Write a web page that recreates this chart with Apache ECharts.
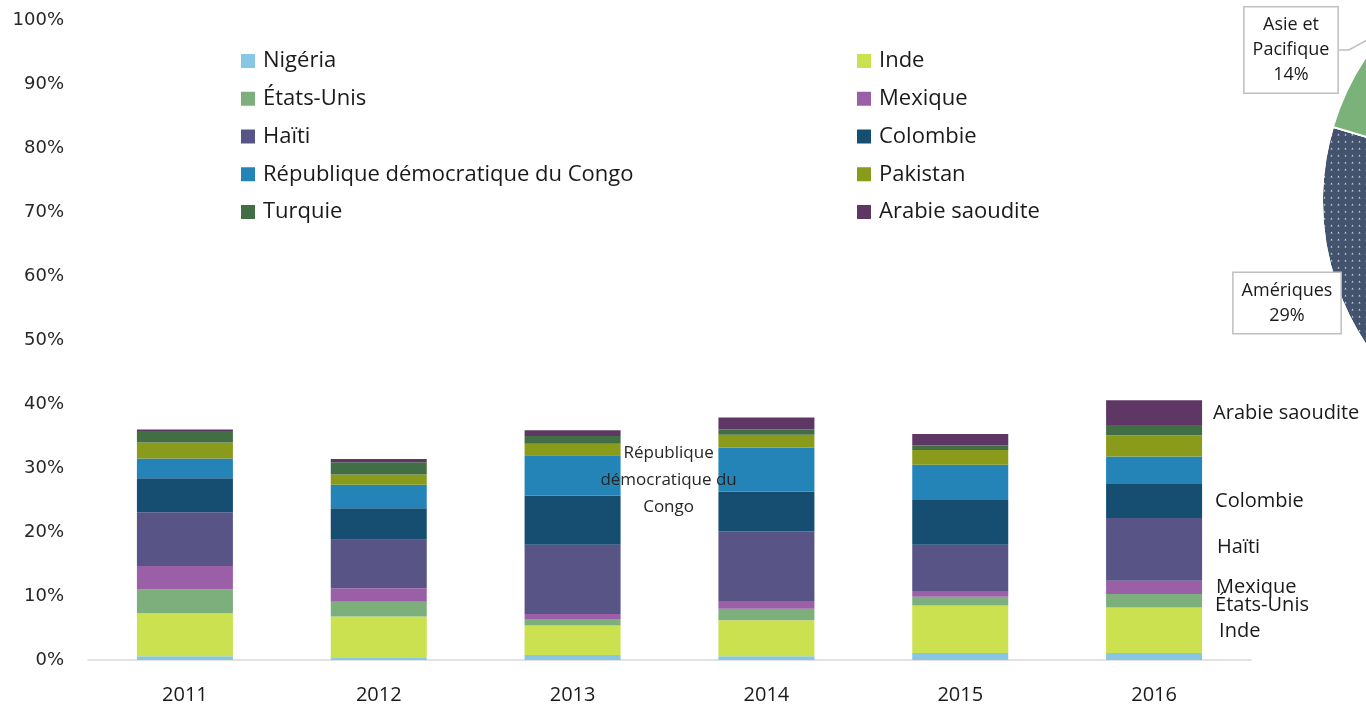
<!DOCTYPE html>
<html>
<head>
<meta charset="utf-8">
<style>
html,body{margin:0;padding:0;background:#fff;}
#chart{width:1366px;height:705px;}
</style>
<script src="https://cdn.jsdelivr.net/npm/echarts@6/dist/echarts.min.js"></script>
</head>
<body>
<div id="chart"></div>
<script>
// ---- Data ----
const years = ['2011', '2012', '2013', '2014', '2015', '2016'];
const countries = ['Nigéria', 'Inde', 'États-Unis', 'Mexique', 'Haïti', 'Colombie',
  'République démocratique du Congo', 'Pakistan', 'Turquie', 'Arabie saoudite'];
const nigeria  = [0.6, 0.3, 0.8, 0.6, 1.1, 1.1];
const inde     = [6.7, 6.5, 4.6, 5.6, 7.4, 7.1];
const etatsUnis= [3.7, 2.3, 1.0, 1.8, 1.4, 2.1];
const mexique  = [3.7, 2.1, 0.8, 1.2, 0.9, 2.1];
const haiti    = [8.4, 7.6, 10.8, 10.9, 7.2, 9.8];
const colombie = [5.3, 4.9, 7.7, 6.2, 7.0, 5.3];
const rdc      = [3.1, 3.7, 6.3, 6.9, 5.5, 4.3];
const pakistan = [2.5, 1.6, 1.8, 2.0, 2.3, 3.3];
const turquie  = [1.8, 1.9, 1.2, 0.8, 0.7, 1.6];
const arabie   = [0.2, 0.5, 0.9, 1.9, 1.8, 3.9];
const seriesValues = [nigeria, inde, etatsUnis, mexique, haiti, colombie, rdc, pakistan, turquie, arabie];

const legendLeft  = ['Nigéria', 'États-Unis', 'Haïti', 'République démocratique du Congo', 'Turquie'];
const legendRight = ['Inde', 'Mexique', 'Colombie', 'Pakistan', 'Arabie saoudite'];

// Pie (régions)
const regions = ['Amériques', 'Asie et\nPacifique'];
const regionShares = [29, 14];

// Annotation texts
const rdcAnnotation = 'République\ndémocratique du\nCongo';
const endLabels = {
  'Inde': 'Inde', 'États-Unis': 'États-Unis', 'Mexique': 'Mexique', 'Haïti': 'Haïti',
  'Colombie': 'Colombie', 'Arabie saoudite': 'Arabie saoudite'
};

// ---- Styles ----
const colors = ['#88c6e6', '#cbe14f', '#7daf7d', '#9b5fa8', '#595486', '#154e70',
  '#2484b8', '#8a9a1a', '#426e45', '#5e3765'];
const FONT = '"Open Sans", "Noto Sans", sans-serif';
const endLabelStyle = {
  'Inde': {distance: 17, offset: [0, 1]},
  'États-Unis': {distance: 13, offset: [0, 4]},
  'Mexique': {distance: 14, offset: [0, 0]},
  'Haïti': {distance: 15, offset: [0, -2]},
  'Colombie': {distance: 13, offset: [0, 0]},
  'Arabie saoudite': {distance: 11, offset: [0, 1]}
};

const lastIdx = years.length - 1;
const barSeries = countries.map(function (name, i) {
  const data = seriesValues[i].map(function (v, j) {
    if (j === lastIdx && endLabels[name]) {
      const st = endLabelStyle[name];
      return {
        value: v,
        label: {
          show: true, position: 'right', distance: st.distance, offset: st.offset,
          formatter: endLabels[name], fontFamily: FONT, fontSize: 20, color: '#1a1a1a'
        }
      };
    }
    if (name === 'République démocratique du Congo' && j === 2) {
      return {
        value: v,
        label: {
          show: true, position: 'inside', offset: [96, 5], formatter: rdcAnnotation,
          fontFamily: FONT, fontSize: 17, lineHeight: 27, color: '#262626', align: 'center'
        }
      };
    }
    return v;
  });
  return {
    name: name, type: 'bar', stack: 'total', barWidth: 96,
    itemStyle: {color: colors[i]},
    emphasis: {disabled: true},
    data: data
  };
});

// pie geometry
const boundaryAngle = 163.3;
const startAngle = boundaryAngle + regionShares[0] * 3.6;
const endAngle = startAngle - (regionShares[0] + regionShares[1]) * 3.6;
const labelPos = [[1287, 303], [1291, 50]];

const pieSeries = {
  type: 'pie',
  center: [1580, 201],
  radius: 258,
  startAngle: startAngle,
  endAngle: endAngle,
  clockwise: true,
  silent: true,
  itemStyle: {borderColor: '#fff', borderWidth: 2},
  data: regions.map(function (r, i) {
    return {name: r, value: regionShares[i]};
  }),
  color: ['#44536d', '#7ab27a'],
  label: {
    show: true,
    formatter: function (p) { return p.name + '\n' + p.value + '%'; },
    fontFamily: FONT, fontSize: 18, lineHeight: 25, color: '#1a1a1a', align: 'center',
    backgroundColor: '#fff', borderColor: '#bfbfbf', borderWidth: 1.5, padding: [5, 8]
  },
  labelLine: {show: true, lineStyle: {color: '#bfbfbf', width: 1.5}, length: 20, length2: 10},
  labelLayout: function (params) {
    const p = labelPos[params.dataIndex];
    return {x: p[0], y: p[1], align: 'center', verticalAlign: 'middle'};
  }
};
pieSeries.data[0].itemStyle = {
  decal: {
    symbol: 'triangle', symbolSize: 0.7, color: 'rgba(255,255,255,0.75)',
    dashArrayX: [3, 4], dashArrayY: [3, 4]
  }
};

const legendCommon = {
  orient: 'vertical', icon: 'rect', itemWidth: 14, itemHeight: 14, itemGap: 15.75, top: 45,
  textStyle: {fontFamily: FONT, fontSize: 22, lineHeight: 22, color: '#1a1a1a', padding: [0, 0, 0, 3]},
  selectedMode: false
};

const option = {
  animation: false,
  backgroundColor: '#fff',
  grid: {left: 88, right: 115, top: 20, bottom: 44.5},
  legend: [
    Object.assign({}, legendCommon, {left: 236, data: legendLeft}),
    Object.assign({}, legendCommon, {left: 852, data: legendRight})
  ],
  xAxis: {
    type: 'category', data: years,
    axisLine: {lineStyle: {color: '#d9d9d9', width: 1.5}},
    axisTick: {show: false},
    axisLabel: {fontFamily: FONT, fontSize: 20, color: '#1a1a1a', margin: 25}
  },
  yAxis: {
    type: 'value', min: 0, max: 100, interval: 10,
    axisLine: {show: false}, axisTick: {show: false},
    splitLine: {show: false},
    axisLabel: {formatter: '{value}%', fontFamily: '"DejaVu Sans", sans-serif', fontSize: 18, color: '#262626', margin: 24, padding: [3, 0, 0, 0]}
  },
  series: barSeries.concat([pieSeries])
};

const chart = echarts.init(document.getElementById('chart'), null, {renderer: 'canvas'});
chart.setOption(option);
</script>
</body>
</html>
